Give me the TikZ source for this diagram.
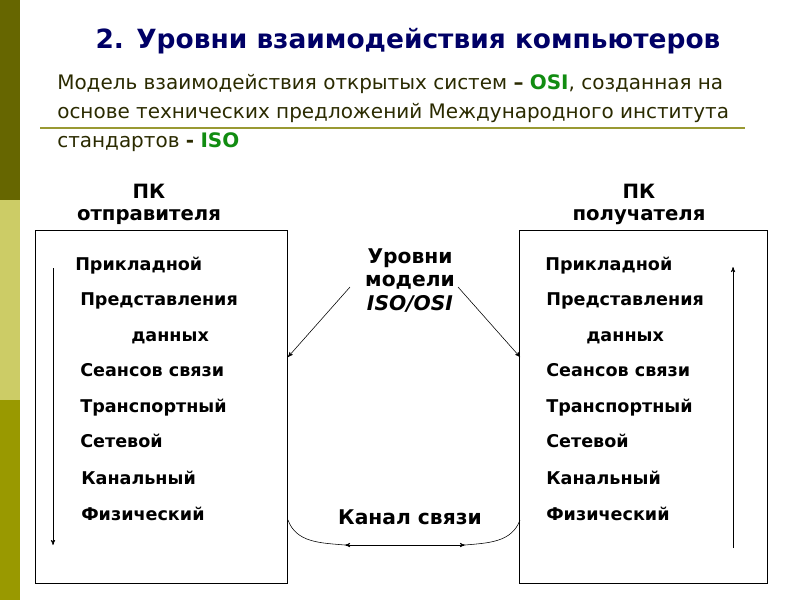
\documentclass[tikz,border=0pt]{standalone}
\usepackage{fontspec}
\setmainfont{DejaVu Sans}
\usepackage{tikz}
\usetikzlibrary{arrows, positioning}
\definecolor{bardark}{HTML}{666600}
\definecolor{barlight}{HTML}{CCCC66}
\definecolor{barmid}{HTML}{999900}
\definecolor{titlenavy}{HTML}{000066}
\definecolor{introtext}{HTML}{2A2A00}
\definecolor{isogreen}{HTML}{118C11}
\definecolor{ruleolive}{HTML}{999933}

\begin{document}
\begin{tikzpicture}[
    x=0.025cm, y=-0.025cm,
    layer/.style={anchor=base west, inner sep=0pt, font=\fontsize{12.5}{15}\selectfont\bfseries},
    pclabel/.style={anchor=base, align=center, inner sep=0pt, font=\fontsize{14}{15.6}\selectfont\bfseries},
    pcbox/.style={rectangle, draw, line width=0.7pt, minimum height=8.8cm},
    arrow/.style={-{stealth'}, thin}
]
    \useasboundingbox (0,0) rectangle (800,600);

    % Side bar
    \fill[bardark] (0,0) rectangle (20,200);
    \fill[barlight] (0,200) rectangle (20,400);
    \fill[barmid] (0,400) rectangle (20,600);

    % Heading
    \node[anchor=base, inner sep=0pt, text=titlenavy, font=\fontsize{18.8}{22}\selectfont\bfseries] (title) at (408,48) {2. Уровни взаимодействия компьютеров};
    \node[anchor=base west, align=left, inner sep=0pt, text=introtext, font=\fontsize{14.2}{20.6}\selectfont] (intro) at (57,147)
        {Модель взаимодействия открытых систем \textbf{–} \textbf{\textcolor{isogreen}{OSI}}, созданная на\\
         основе технических предложений Международного института\\
         стандартов \textbf{-} \textbf{\textcolor{isogreen}{ISO}}};
    \draw[ruleolive, line width=1.2pt] (40,128) -- (745,128);

    % Computers
    \node[pclabel] (senderpc) at (149,220) {ПК\\отправителя};
    \node[pclabel] (receiverpc) at (639,220) {ПК\\получателя};
    \node[pcbox, minimum width=6.275cm] (sender) at (161.5,407) {};
    \node[pcbox, minimum width=6.175cm] (receiver) at (643.5,407) {};

    % Sender layers
    \node[layer] (sapp) at (75,270) {Прикладной};
    \node[layer] (spres) at (80,305) {Представления};
    \node[layer] (sdata) at (131,341) {данных};
    \node[layer] (ssess) at (80,376) {Сеансов связи};
    \node[layer] (strans) at (80,412) {Транспортный};
    \node[layer] (snet) at (80,447) {Сетевой};
    \node[layer] (slink) at (81,484) {Канальный};
    \node[layer] (sphys) at (81,520) {Физический};

    % Receiver layers
    \node[layer] (rapp) at (545,270) {Прикладной};
    \node[layer] (rpres) at (546,305) {Представления};
    \node[layer] (rdata) at (586,341) {данных};
    \node[layer] (rsess) at (546,376) {Сеансов связи};
    \node[layer] (rtrans) at (546,412) {Транспортный};
    \node[layer] (rnet) at (546,447) {Сетевой};
    \node[layer] (rlink) at (546,484) {Канальный};
    \node[layer] (rphys) at (546,520) {Физический};

    % Middle labels
    \node[pclabel, font=\fontsize{14.4}{16.7}\selectfont\bfseries] (osi) at (410,310) {Уровни\\модели\\\textit{ISO/OSI}};
    \node[pclabel, font=\fontsize{14.4}{16.7}\selectfont\bfseries] (channel) at (410,524) {Канал связи};

    % Arrows
    \coordinate (sdown) at (53,268);
    \coordinate (sdownend) at (53,545);
    \coordinate (rup) at (733,548);
    \coordinate (rupend) at (733,267);
    \draw[arrow] (sdown) -- (sdownend);
    \draw[arrow] (rup) -- (rupend);

    \coordinate (osileft) at (350,287);
    \coordinate (osiright) at (458,287);
    \coordinate (senderhit) at (288,357);
    \coordinate (receiverhit) at (520,357);
    \draw[arrow] (osileft) -- (senderhit);
    \draw[arrow] (osiright) -- (receiverhit);

    \coordinate (linkfrom) at (288,520);
    \coordinate (linkl) at (345,545);
    \coordinate (linkr) at (465,545);
    \coordinate (linkto) at (520,520);
    \draw[thin] (linkfrom) to[out=-70, in=175] (linkl);
    \draw[{stealth'}-{stealth'}, thin] (linkl) -- (linkr);
    \draw[thin] (linkr) to[out=5, in=-110] (linkto);
\end{tikzpicture}
\end{document}
